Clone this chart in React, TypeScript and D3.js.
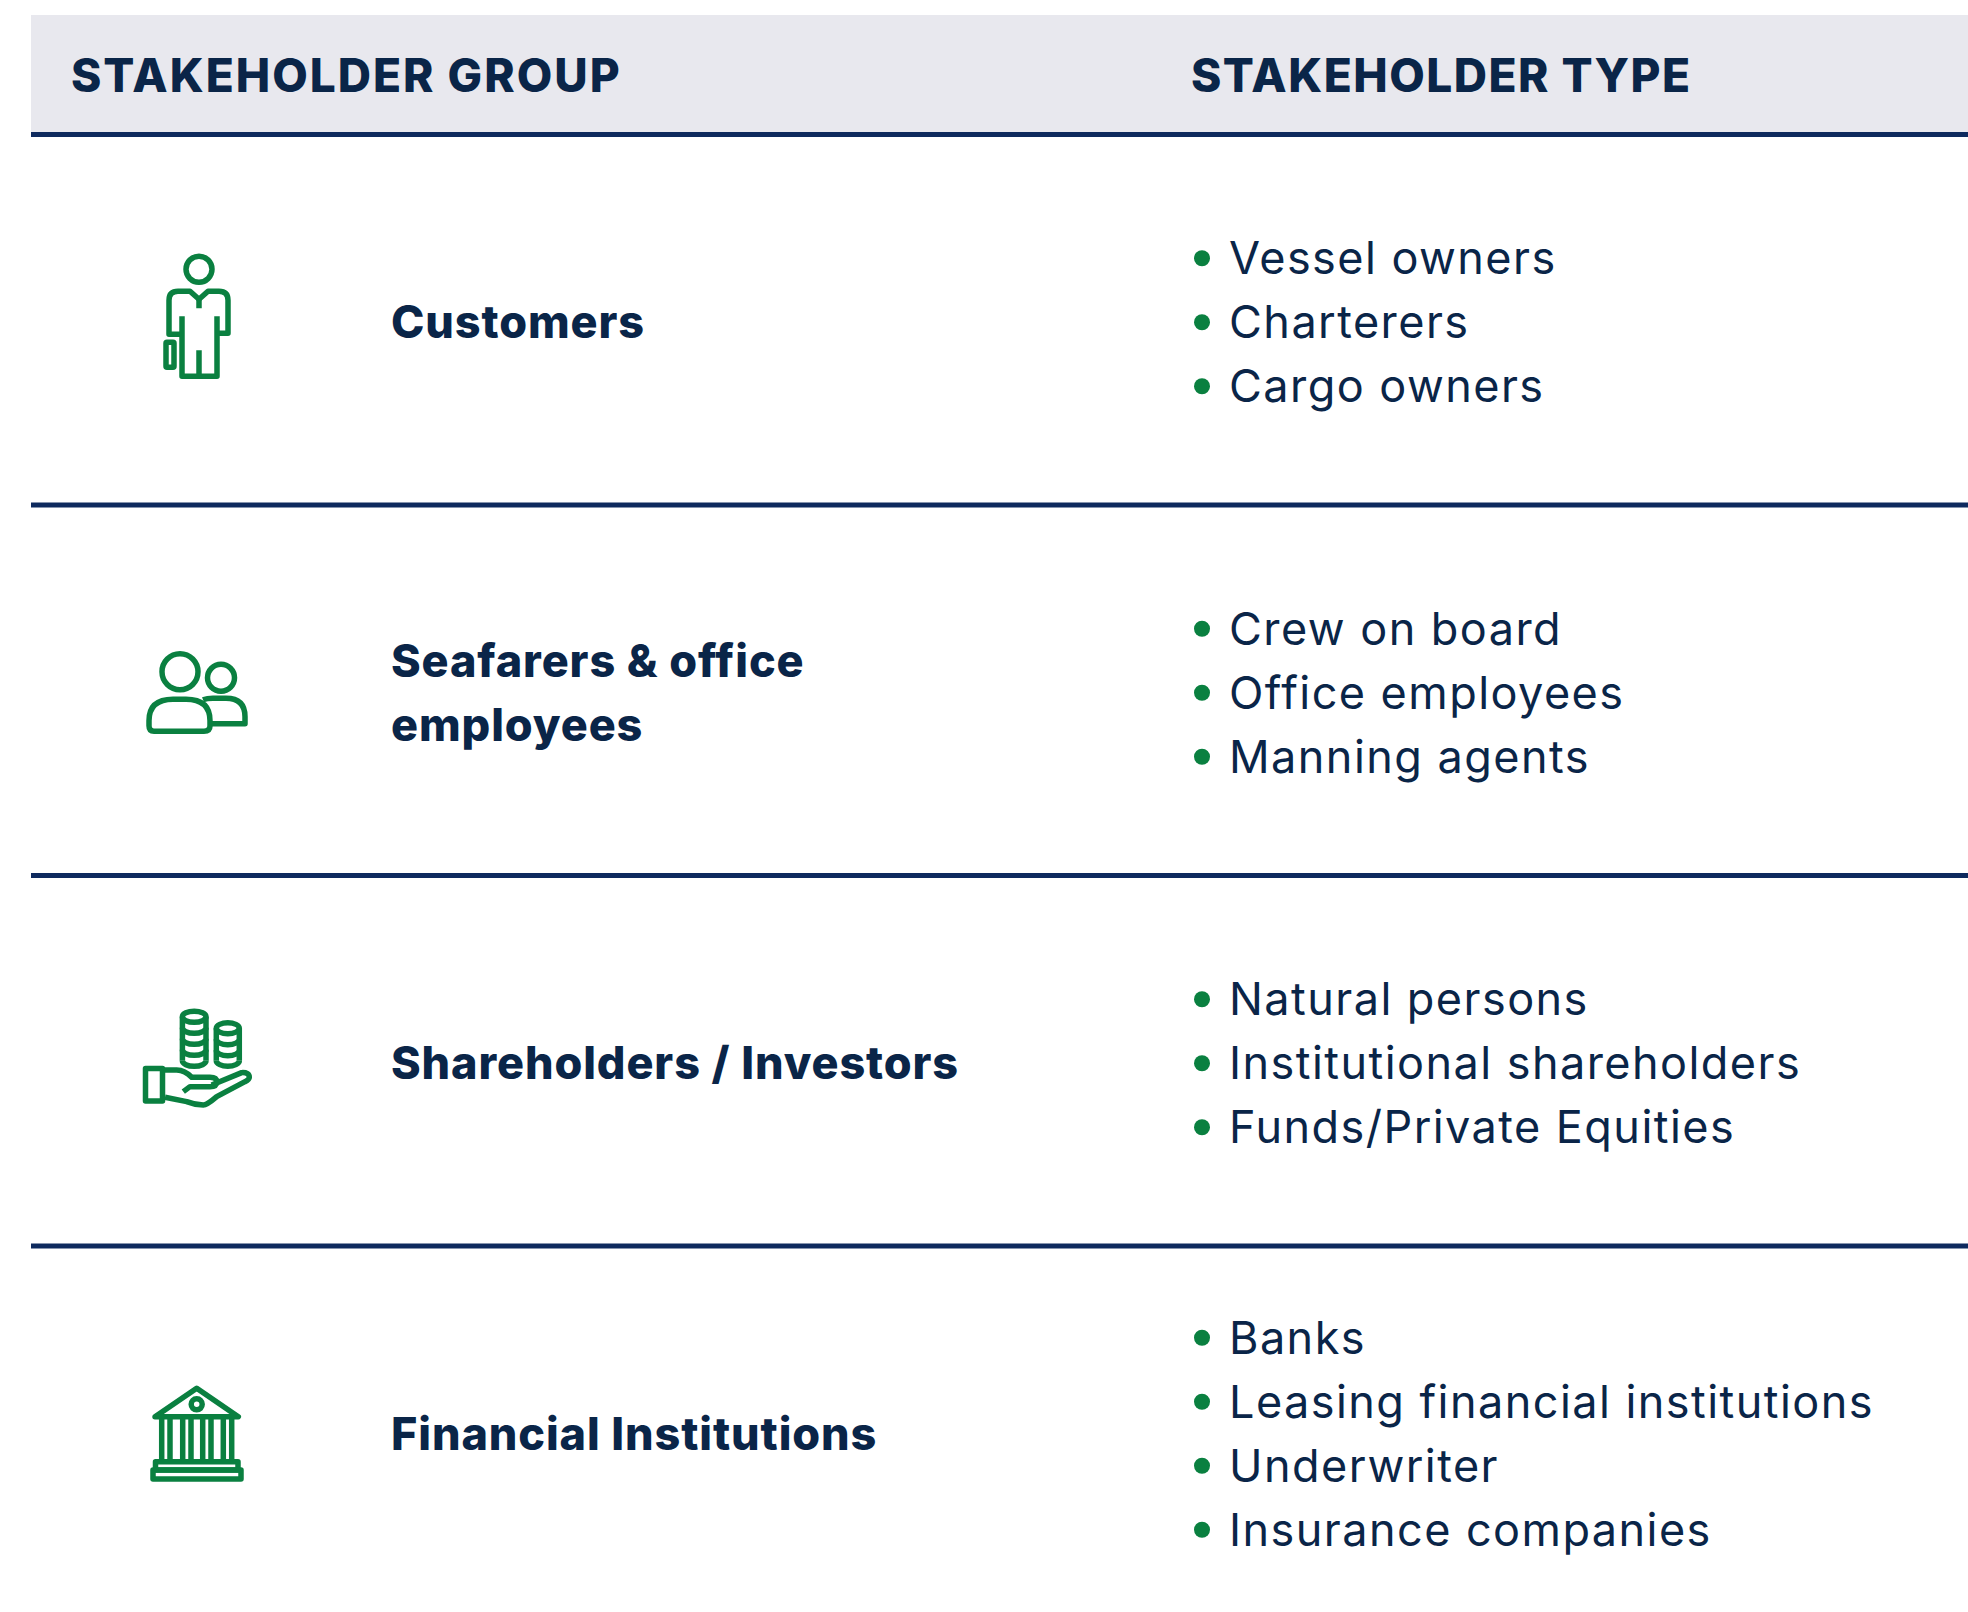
import React from "react";
import * as d3 from "d3";

const headers = ["STAKEHOLDER GROUP", "STAKEHOLDER TYPE"];
const groups = [["Customers"], ["Seafarers & office", "employees"], ["Shareholders / Investors"], ["Financial Institutions"]];
const types = [
  ["Vessel owners", "Charterers", "Cargo owners"],
  ["Crew on board", "Office employees", "Manning agents"],
  ["Natural persons", "Institutional shareholders", "Funds/Private Equities"],
  ["Banks", "Leasing financial institutions", "Underwriter", "Insurance companies"],
];
const icons = ["person", "people", "coins", "bank"];

const navy = "#0a2548";
const rule = "#0e2a5e";
const green = "#0a8040";
const font = "Inter, 'Noto Sans', sans-serif";

const rowScale = d3.scaleBand<number>().domain([0, 1, 2, 3]).range([134.5, 1616.5]);
const lineStep = 64;

function Icon({ kind, y }: { kind: string; y: number }) {
  const s = { fill: "none", stroke: green, strokeWidth: 5.5, strokeLinejoin: "round" as const };
  if (kind === "person")
    return (
      <g {...s} transform={`translate(199,${y})`}>
        <circle cx={0} cy={-53} r={13} />
        <path d="M-18,12 H-30 V-22 Q-30,-31 -21,-31 H-9 L0,-23 L9,-31 H20 Q29,-31 29,-22 V11 H19" />
        <path d="M0,-23 V-14" />
        <path d="M-17,-6 V54 H18 V-6 M0,28 V54" />
        <rect x={-33} y={20} width={8} height={25} rx={1} />
      </g>
    );
  if (kind === "people")
    return (
      <g {...s} transform={`translate(199,${y})`}>
        <circle cx={-19} cy={-21} r={18} />
        <circle cx={22} cy={-15} r={13.5} />
        <path d="M-50,33 V28 Q-50,6.5 -26,6.5 H-13 Q11,6.5 11,28 V33 Q11,38.5 5,38.5 H-45 Q-50,38.5 -50,33 Z" />
        <path d="M4,7 Q8,5.5 14,5.5 H27 Q46,5.5 46,24 V31 H11" />
      </g>
    );
  if (kind === "coins")
    return (
      <g {...s} transform={`translate(199,${y})`}>
        <ellipse cx={-4.8} cy={-46.5} rx={11.8} ry={5.5} />
        <path d="M-16.6,-46.5 V-2.5 M7,-46.5 V-2.5" />
        {[-35.5, -24.5, -13.5, -2.5].map((c) => (
          <path key={c} d={`M-16.6,${c} A11.8,5.5 0 0 0 7,${c}`} />
        ))}
        <ellipse cx={28.8} cy={-35} rx={11.5} ry={5.5} />
        <path d="M17.3,-35 V-2.5 M40.3,-35 V-2.5" />
        {[-24, -13, -2.5].map((c) => (
          <path key={c} d={`M17.3,${c} A11.5,5.5 0 0 0 40.3,${c}`} />
        ))}
        <rect x={-53.5} y={5.3} width={17} height={32.5} />
        <path d="M-34,6.75 H-22.3 Q-14,7 -7.3,14 H11 Q17.7,14 17.7,18.4 Q17.7,23.4 11,23.4 H-9 L-15.7,28.4" />
        <path d="M12.7,21.75 L42.7,9.4 Q50.3,9 50.3,14 Q50.3,16.5 46,18.4 L17.7,33.4 Q8,41.75 4.3,41.75 Q-4,41.75 -12.3,38.4 L-34,34" />
      </g>
    );
  return (
    <g {...s} transform={`translate(197,${y})`}>
      <path d="M-42,-17 L-0.3,-45.4 L41.3,-17 Z" />
      <circle cx={-0.3} cy={-29.4} r={5.5} />
      {[-35.3, -27, -14.3, -6, 5.7, 14, 26.3, 34.7].map((x) => (
        <path key={x} d={`M${x},-15.4 V26.25`} />
      ))}
      <rect x={-41.5} y={27.9} width={82.5} height={8.35} />
      <rect x={-44} y={36.25} width={88} height={9} />
    </g>
  );
}

export default function App() {
  return (
    <svg width={1968} height={1612} style={{ position: "absolute", left: 0, top: 0, background: "#fff" }}>
      <rect x={31} y={15} width={1937} height={118} fill="#e8e8ee" />
      <line x1={31} x2={1968} y1={134.5} y2={134.5} stroke={rule} strokeWidth={5} />
      {headers.map((h, i) => (
        <text key={h} x={i ? 1191 : 71} y={92} fontFamily={font} fontWeight={800} fontSize={46} letterSpacing={i ? 1.5 : 2} fill={navy}>{h}</text>
      ))}
      {groups.map((g, i) => {
        const cy = rowScale(i)! + rowScale.bandwidth() / 2 + 2.5;
        return (
          <g key={i}>
            {i > 0 && <line x1={31} x2={1968} y1={rowScale(i)!} y2={rowScale(i)!} stroke={rule} strokeWidth={5} />}
            <Icon kind={icons[i]} y={cy} />
            {g.map((t, j) => (
              <text key={t} x={391} y={cy + 16 + (j - (g.length - 1) / 2) * lineStep} fontFamily={font} fontWeight={800} fontSize={45} letterSpacing={0.9} fill={navy}>{t}</text>
            ))}
            {types[i].map((t, j) => {
              const ty = cy + (j - (types[i].length - 1) / 2) * lineStep;
              return (
                <g key={t}>
                  <circle cx={1202} cy={ty} r={8} fill={green} />
                  <text x={1229} y={ty + 16} fontFamily={font} fontSize={45} letterSpacing={1.45} fill={navy}>{t}</text>
                </g>
              );
            })}
          </g>
        );
      })}
    </svg>
  );
}
